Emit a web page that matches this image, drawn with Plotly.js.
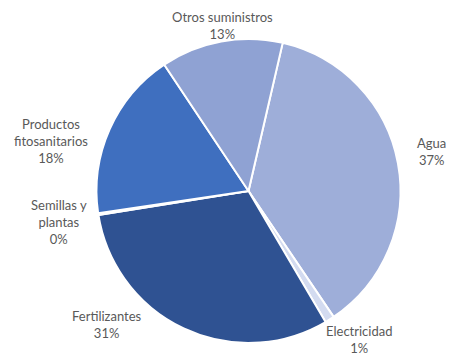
<!DOCTYPE html>
<html>
<head>
<meta charset="utf-8">
<script src="https://cdn.plot.ly/plotly-3.0.1.min.js"></script>
<style>html,body{margin:0;padding:0;background:#fff;}#chart{width:449px;height:356px;}</style>
</head>
<body>
<div id="chart"></div>
<script>
// Data
var categories = ["Agua", "Electricidad", "Fertilizantes", "Semillas y plantas", "Productos fitosanitarios", "Otros suministros"];
var labelText = ["Agua", "Electricidad", "Fertilizantes", "Semillas y<br>plantas", "Productos<br>fitosanitarios", "Otros suministros"];
var values = [37, 1, 31, 0.2, 18, 13];

// Styling / layout (not data)
var colors = ["#9eaed9", "#d3dbf0", "#2f5292", "#2f5292", "#3f6fbf", "#8fa2d3"];
var labelPx = [[431, 152], [359, 339], [107, 324], [59, 222], [51, 141], [222, 26]];

var W = 449, H = 356;
var cx = 248.5, cy = 191, r = 152;

var annotations = categories.map(function (c, i) {
  var total = values.reduce(function (a, b) { return a + b; }, 0);
  var pct = Math.round(values[i] / total * 100) + "%";
  return {
    xref: "paper", yref: "paper",
    x: labelPx[i][0] / W, y: 1 - labelPx[i][1] / H,
    xanchor: "center", yanchor: "middle",
    text: labelText[i] + "<br>" + pct,
    showarrow: false,
    align: "center",
    font: {family: "Lato, 'Open Sans', sans-serif", size: 13, color: "#595959"}
  };
});

var trace = {
  type: "pie",
  labels: categories,
  values: values,
  sort: false,
  direction: "clockwise",
  rotation: 13,
  textinfo: "none",
  hoverinfo: "label+percent",
  marker: {colors: colors, line: {color: "#ffffff", width: 2}},
  domain: {x: [(cx - r) / W, (cx + r) / W], y: [(H - cy - r) / H, (H - cy + r) / H]},
  showlegend: false
};

var layout = {
  width: W, height: H,
  margin: {l: 0, r: 0, t: 0, b: 0},
  paper_bgcolor: "#ffffff",
  plot_bgcolor: "#ffffff",
  showlegend: false,
  annotations: annotations
};

Plotly.newPlot("chart", [trace], layout, {displayModeBar: false, staticPlot: true});
</script>
</body>
</html>
